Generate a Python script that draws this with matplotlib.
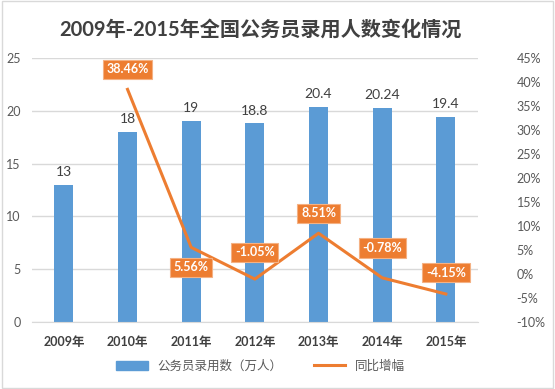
import numpy as np
import matplotlib.pyplot as plt
from matplotlib.patches import Rectangle

plt.rcParams['font.family'] = ['Lato', 'Noto Sans CJK SC', 'DejaVu Sans']

# data
years = ['2009年', '2010年', '2011年', '2012年', '2013年', '2014年', '2015年']
hires = [13, 18, 19, 18.8, 20.4, 20.24, 19.4]
growth = [np.nan, 38.46, 5.56, -1.05, 8.51, -0.78, -4.15]
# label offsets (points) for the growth labels, excel put one below
growth_offset = [0, 10, -10, 15, 10, 17, 11]

bar_color = '#5B9BD5'
line_color = '#ED7D31'
text_color = '#595959'

fig = plt.figure(figsize=(5.55, 3.89), dpi=100)
ax = fig.add_axes([0.0577, 0.172, 0.803, 0.679])
ax2 = ax.twinx()

x = np.arange(len(years))
ax.bar(x, hires, width=0.3, color=bar_color, zorder=2)
for xi, v in zip(x, hires):
    ax.annotate(f'{v:g}', (xi, v), xytext=(0, 5), textcoords='offset points',
                ha='center', va='bottom', fontsize=10, color='#404040')

ax.set_ylim(0, 25)
ax.set_yticks(range(0, 26, 5))
ax.set_xlim(-0.5, len(years) - 0.5)
ax.set_xticks(x)
ax.set_xticklabels(years, fontweight='bold')
ax.grid(axis='y', color='#D9D9D9', linewidth=1, zorder=0)
ax.set_axisbelow(True)
for s in ['top', 'right', 'left']:
    ax.spines[s].set_visible(False)
ax.spines['bottom'].set_color('#D9D9D9')
ax.tick_params(axis='both', length=0, colors=text_color, labelsize=9, pad=8)
ax.tick_params(axis='x', labelcolor='#404040', pad=10)

ax2.plot(x, growth, color=line_color, linewidth=2.2, zorder=3)
ax2.set_ylim(-10, 45)
ax2.set_yticks(range(-10, 46, 5))
ax2.set_yticklabels([f'{t}%' for t in range(-10, 46, 5)])
for s in ax2.spines.values():
    s.set_visible(False)
ax2.tick_params(axis='y', length=0, colors=text_color, labelsize=9, pad=28)
for xi, v, off in zip(x, growth, growth_offset):
    if np.isnan(v):
        continue
    ax2.annotate(f'{v:.2f}%', (xi, v), xytext=(0, off), textcoords='offset points',
                 ha='center', va='bottom' if off > 0 else 'top',
                 fontsize=9, fontweight='bold', color='white',
                 bbox=dict(boxstyle='square,pad=0.3', fc=line_color, ec='#F4B183', lw=0.8))

fig.text(0.47, 0.925, '2009年-2015年全国公务员录用人数变化情况', ha='center', va='center',
         fontsize=14.5, fontweight='bold', color='#404040')

# legend
h1 = Rectangle((0, 0), 1, 1, color=bar_color)
h2 = plt.Line2D([0], [0], color=line_color, linewidth=2.2)
fig.legend([h1, h2], ['公务员录用数（万人）', '同比增幅'], loc='center', ncol=2,
           bbox_to_anchor=(0.47, 0.06), frameon=False, fontsize=9,
           labelcolor=text_color, handlelength=2.5, columnspacing=2.5)

fig.patches.append(Rectangle((0.003, 0.003), 0.994, 0.994, transform=fig.transFigure,
                             fill=False, ec='#D9D9D9', lw=1))

plt.savefig('out.png', dpi=100)
